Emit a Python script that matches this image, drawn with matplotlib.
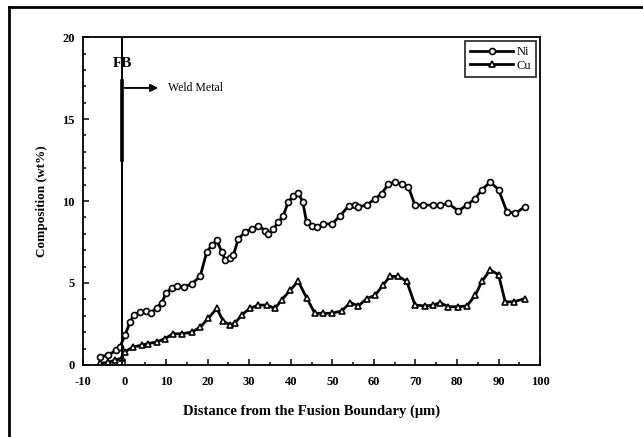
import matplotlib
matplotlib.use("Agg")
import matplotlib.pyplot as plt
from matplotlib.lines import Line2D
from matplotlib.ticker import MultipleLocator

# Ni profile (distance in um, wt%)
ni_x = [-5.9, -3.9, -2.0, -1.1, 0.1, 1.3, 2.3, 3.7, 5.2, 6.3, 7.7, 9.0, 10.0, 11.4, 12.6,
        14.2, 16.2, 18.2, 19.8, 21.0, 22.2, 23.4, 24.2, 25.4, 26.2, 27.4, 29.0, 30.6, 32.2,
        33.8, 34.6, 35.8, 37.0, 38.2, 39.4, 40.6, 41.8, 42.9, 43.8, 45.0, 46.3, 47.8, 49.9,
        51.9, 53.9, 55.5, 56.3, 58.3, 60.3, 61.9, 63.5, 65.1, 66.7, 68.3, 69.9, 71.9, 74.3,
        75.9, 77.9, 80.3, 82.4, 84.4, 86.0, 88.0, 90.0, 92.0, 94.0, 96.4]
ni_y = [0.5, 0.6, 0.9, 1.1, 1.8, 2.6, 3.05, 3.2, 3.3, 3.15, 3.5, 3.8, 4.4, 4.7, 4.8,
        4.75, 4.95, 5.4, 6.9, 7.3, 7.6, 6.9, 6.4, 6.5, 6.7, 7.7, 8.1, 8.3, 8.5,
        8.2, 8.0, 8.3, 8.7, 9.1, 9.95, 10.3, 10.5, 9.95, 8.7, 8.5, 8.4, 8.6, 8.6,
        9.1, 9.7, 9.75, 9.65, 9.75, 10.15, 10.45, 11.05, 11.15, 11.05, 10.85, 9.75, 9.75, 9.75,
        9.75, 9.85, 9.4, 9.75, 10.15, 10.7, 11.15, 10.7, 9.35, 9.25, 9.65]

# Cu profile
cu_x = [-5.9, -3.9, -2.3, -0.7, 0.1, 2.1, 4.1, 5.7, 7.7, 9.7, 11.7, 13.8, 16.2, 18.2,
        20.2, 22.2, 23.8, 25.4, 26.6, 28.2, 30.2, 32.2, 34.2, 36.2, 37.8, 39.8, 41.8,
        43.8, 45.8, 47.8, 49.9, 52.3, 54.3, 56.3, 58.3, 60.3, 62.3, 63.9, 65.9, 67.9,
        69.9, 72.3, 74.3, 75.9, 77.9, 80.3, 82.4, 84.4, 86.0, 88.0, 90.0, 91.6, 93.6, 96.4]
cu_y = [0.1, 0.15, 0.3, 0.4, 0.8, 1.1, 1.2, 1.3, 1.4, 1.6, 1.9, 1.9, 2.0, 2.3,
        2.85, 3.45, 2.65, 2.45, 2.55, 3.05, 3.45, 3.65, 3.65, 3.45, 3.95, 4.55, 5.1,
        4.1, 3.15, 3.15, 3.15, 3.3, 3.8, 3.6, 4.05, 4.25, 4.9, 5.4, 5.4, 5.1,
        3.65, 3.6, 3.65, 3.8, 3.55, 3.55, 3.6, 4.25, 5.1, 5.8, 5.5, 3.85, 3.85, 4.05]

fb_x = -0.6

plt.rcParams['font.family'] = ['Liberation Serif', 'DejaVu Serif']
plt.rcParams['axes.unicode_minus'] = False

fig = plt.figure(figsize=(6.43, 4.37), dpi=100)
ax = fig.add_axes([0.129, 0.165, 0.711, 0.750])

ax.plot(ni_x, ni_y, color='black', lw=2.0, marker='o', ms=4.3,
        mfc='white', mec='black', mew=1.2, label='Ni')
ax.plot(cu_x, cu_y, color='black', lw=2.0, marker='^', ms=4.8,
        mfc='white', mec='black', mew=1.2, label='Cu')

# fusion boundary
ax.plot([fb_x, fb_x], [0, 20], color='black', lw=1.4)
ax.plot([fb_x, fb_x], [12.5, 17.3], color='black', lw=2.6)
ax.text(fb_x, 18.4, 'FB', ha='center', va='center', fontsize=11, fontweight='bold')
ax.annotate('', xy=(8.8, 16.9), xytext=(fb_x, 16.9),
            arrowprops=dict(arrowstyle='-|>', color='black', lw=1.4, mutation_scale=11))
ax.text(10.5, 16.9, 'Weld Metal', ha='left', va='center', fontsize=8.5)

ax.set_xlim(-10, 100)
ax.set_ylim(0, 20)
ax.xaxis.set_major_locator(MultipleLocator(10))
ax.xaxis.set_minor_locator(MultipleLocator(5))
ax.yaxis.set_major_locator(MultipleLocator(5))
ax.yaxis.set_minor_locator(MultipleLocator(1))
ax.tick_params(which='both', direction='in', top=False, right=False, width=1.1)
ax.tick_params(which='major', length=4, labelsize=9, pad=8)
ax.tick_params(axis='y', which='major', pad=6)
ax.tick_params(which='minor', length=2.5)
for lab in ax.get_xticklabels() + ax.get_yticklabels():
    lab.set_fontweight('bold')
for sp in ax.spines.values():
    sp.set_linewidth(1.3)

ax.set_xlabel('Distance from the Fusion Boundary (\u03bcm)', fontsize=10.5, fontweight='bold', labelpad=12)
ax.set_ylabel('Composition (wt%)', fontsize=9.5, fontweight='bold', labelpad=10)

leg = ax.legend(loc='upper right', fontsize=9, frameon=True, fancybox=False,
                handlelength=3.4, handletextpad=0.3, borderpad=0.4, labelspacing=0.15,
                borderaxespad=0.3)
leg.get_frame().set_edgecolor('black')
leg.get_frame().set_linewidth(1.3)

# partial outer frame of the scanned figure
fig.add_artist(Line2D([9 / 643, 9 / 643], [0, 1 - 7 / 437], color='black', lw=2.0))
fig.add_artist(Line2D([9 / 643, 1], [1 - 7 / 437, 1 - 7 / 437], color='black', lw=2.0))

fig.savefig('out.png', dpi=100)
